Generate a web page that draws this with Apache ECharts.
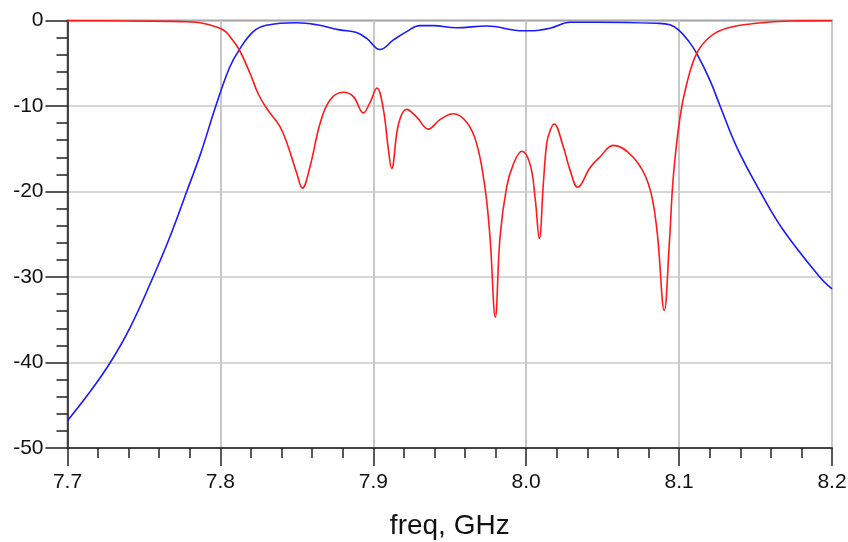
<!DOCTYPE html>
<html>
<head>
<meta charset="utf-8">
<script src="https://cdn.jsdelivr.net/npm/echarts@6/dist/echarts.min.js"></script>
<style>
  html, body { margin: 0; padding: 0; background: #fff; }
  #chart { width: 848px; height: 542px; }
</style>
</head>
<body>
<div id="chart"></div>
<script>
// S21 (blue), dB vs GHz
const s21Freq = [7.700, 7.714, 7.728, 7.741, 7.756, 7.767, 7.778, 7.787, 7.797, 7.806,
  7.8124, 7.8215, 7.830, 7.850, 7.863, 7.878, 7.889, 7.8957, 7.9044, 7.913,
  7.9218, 7.9305, 7.9392, 7.9545, 7.974, 7.998, 8.0025, 8.0156, 8.0287, 8.0461,
  8.0853, 8.094, 8.100, 8.1066, 8.1115, 8.1202, 8.1268, 8.1377, 8.153, 8.1681,
  8.192, 8.200];
const s21Db = [-46.8, -43.6, -40.0, -35.9, -30.0, -25.3, -20.0, -15.6, -10.0, -5.5,
  -3.4, -1.3, -0.55, -0.26, -0.5, -1.1, -1.4, -2.1, -3.4, -2.3,
  -1.3, -0.6, -0.6, -0.85, -0.65, -1.2, -1.2, -0.9, -0.2, -0.2,
  -0.33, -0.5, -1.15, -2.5, -3.85, -7.0, -10.0, -14.8, -20.0, -24.5,
  -30.0, -31.4];

// S11 (red)
const s11Freq = [7.700, 7.740, 7.770, 7.778, 7.7867, 7.7932, 7.7997, 7.804, 7.8063, 7.8124,
  7.8194, 7.8248, 7.8303, 7.839, 7.8444, 7.850, 7.8536, 7.8586, 7.8651, 7.8717,
  7.8804, 7.887, 7.8935, 7.8978, 7.9024, 7.9065, 7.9098, 7.912, 7.9165, 7.9218,
  7.9284, 7.936, 7.9436, 7.9523, 7.9611, 7.9676, 7.973, 7.9763, 7.9798, 7.9829,
  7.9872, 7.9916, 7.9971, 8.0025, 8.0058, 8.0086, 8.0112, 8.0134, 8.0156, 8.0182,
  8.0243, 8.0287, 8.0337, 8.0418, 8.048, 8.057, 8.070, 8.0799, 8.0853, 8.0903,
  8.0936, 8.0962, 8.1006, 8.105, 8.1115, 8.1202, 8.1311, 8.1507, 8.1725, 8.200];
const s11Db = [-0.02, -0.05, -0.1, -0.15, -0.26, -0.53, -0.9, -1.4, -1.9, -3.45,
  -6.2, -8.6, -10.3, -12.4, -14.8, -17.9, -19.6, -17.1, -12.1, -9.3,
  -8.4, -8.9, -10.8, -9.6, -7.9, -10.3, -15.0, -17.3, -12.1, -10.4,
  -11.3, -12.7, -11.6, -10.9, -11.9, -14.4, -19.5, -25.3, -34.7, -25.3,
  -19.5, -16.8, -15.3, -16.8, -20.7, -25.5, -19.1, -14.4, -12.9, -12.1,
  -14.8, -17.5, -19.5, -17.2, -16.0, -14.6, -16.0, -19.1, -24.2, -33.9,
  -26.1, -18.3, -11.3, -7.4, -3.85, -1.9, -0.9, -0.33, -0.06, -0.01];

const xTicks = ['7.7', '7.8', '7.9', '8.0', '8.1', '8.2'];
const yTicks = [0, -10, -20, -30, -40, -50];

const chart = echarts.init(document.getElementById('chart'))

const zip = (xs, ys) => xs.map((x, i) => [x, ys[i]])

let option = {
  animation: false,
  grid: {
    left: 67.5,
    right: 16,
    top: 20.5,
    bottom: 94,
    show: true,
    borderColor: '#444',
    borderWidth: 1.5,
    outerBoundsMode: 'none'
  },
  xAxis: {
    type: 'value',
    min: 7.7,
    max: 8.2,
    interval: 0.1,
    name: 'freq, GHz',
    nameLocation: 'middle',
    nameGap: 64,
    nameTextStyle: { fontFamily: 'Liberation Sans', fontSize: 28, color: '#111' },
    axisLine: { onZero: false, lineStyle: { color: '#444', width: 2 } },
    axisTick: { length: 18, lineStyle: { color: '#222', width: 1.5 } },
    minorTick: { show: true, splitNumber: 5, length: 10, lineStyle: { color: '#222', width: 1.5 } },
    axisLabel: {
      margin: 24,
      fontFamily: 'Liberation Sans',
      fontSize: 21,
      color: '#111',
      formatter: v => xTicks[Math.round((v - 7.7) * 10)]
    },
    splitLine: { lineStyle: { color: '#c8c8c8', width: 2 } }
  },
  yAxis: {
    type: 'value',
    min: -50,
    max: 0,
    interval: 10,
    axisLine: { show: true, lineStyle: { color: '#444', width: 2 } },
    axisTick: { show: true, length: 22, lineStyle: { color: '#222', width: 1.5 } },
    minorTick: { show: true, splitNumber: 5, length: 11, lineStyle: { color: '#222', width: 1.5 } },
    axisLabel: {
      margin: 24,
      fontFamily: 'Liberation Sans',
      fontSize: 21,
      color: '#111',
      formatter: v => String(yTicks[Math.round(-v / 10)])
    },
    splitLine: { lineStyle: { color: '#c8c8c8', width: 1.5 } }
  },
  series: [{
      name: 'S21',
      type: 'line',
      data: zip(s21Freq, s21Db),
      smooth: 0.4,
      symbol: 'none',
      lineStyle: { color: '#1a1aff', width: 1.6 }
    },
    {
      name: 'S11',
      type: 'line',
      data: zip(s11Freq, s11Db),
      smooth: 0.4,
      symbol: 'none',
      lineStyle: { color: '#ff1a1a', width: 1.6 }
    }
  ]
};

chart.setOption(option)
</script>
</body>
</html>
